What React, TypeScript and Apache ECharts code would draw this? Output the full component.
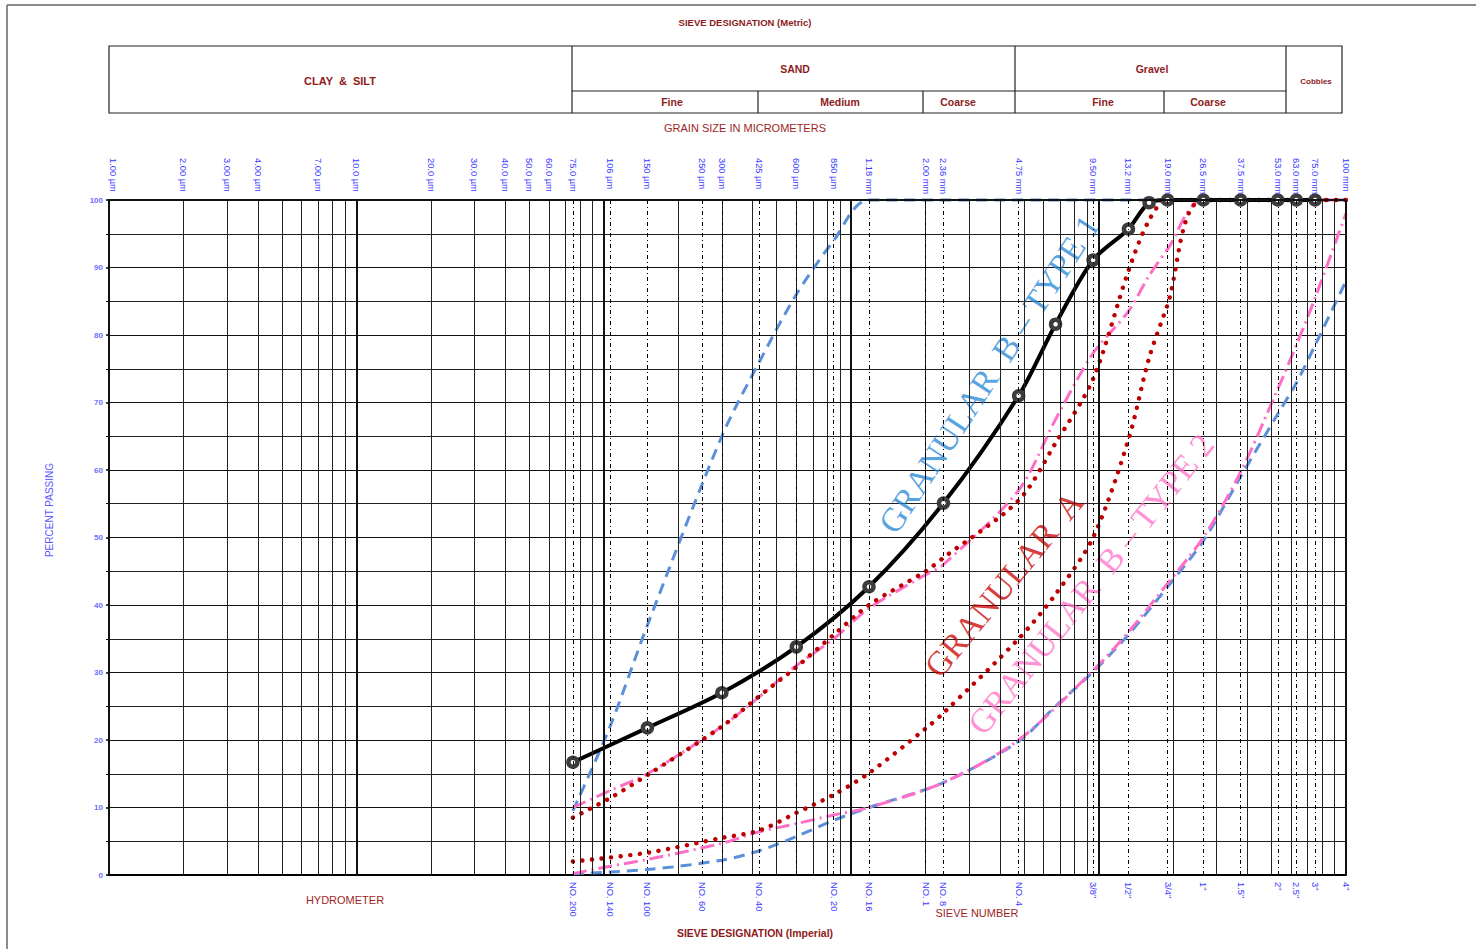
import React, { useEffect, useRef } from 'react';
import * as echarts from 'echarts';

// ---------- axis definitions (grain size in micrometres, percent passing) ----------
const sieveSizesUm = [75, 106, 150, 250, 300, 425, 600, 850, 1180, 2000, 2360, 4750, 9500, 13200, 19000, 26500, 37500, 53000, 63000, 75000];
const metricLabelSizesUm = [1, 2, 3, 4, 7, 10, 20, 30, 40, 50, 60, 75, 106, 150, 250, 300, 425, 600, 850, 1180, 2000, 2360, 4750, 9500, 13200, 19000, 26500, 37500, 53000, 63000, 75000, 100000];
const metricLabels = ['1.00 µm', '2.00 µm', '3.00 µm', '4.00 µm', '7.00 µm', '10.0 µm', '20.0 µm', '30.0 µm', '40.0 µm', '50.0 µm', '60.0 µm', '75.0 µm', '106 µm', '150 µm', '250 µm', '300 µm', '425 µm', '600 µm', '850 µm', '1.18 mm', '2.00 mm', '2.36 mm', '4.75 mm', '9.50 mm', '13.2 mm', '19.0 mm', '26.5 mm', '37.5 mm', '53.0 mm', '63.0 mm', '75.0 mm', '100 mm'];
const imperialLabelSizesUm = [75, 106, 150, 250, 425, 850, 1180, 2000, 2360, 4750, 9500, 13200, 19000, 26500, 37500, 53000, 63000, 75000, 100000];
const imperialLabels = ['NO. 200', 'NO. 140', 'NO. 100', 'NO. 60', 'NO. 40', 'NO. 20', 'NO. 16', 'NO. 1', 'NO. 8', 'NO. 4', '3/8"', '1/2"', '3/4"', '1"', '1.5"', '2"', '2.5"', '3"', '4"'];

// ---------- gradation curves ----------
const typeB1Sizes = [75, 150, 300, 600, 1180, 2360, 4750, 6700, 9500, 13200, 16000, 19000, 26500, 37500, 53000, 63000, 75000];
const typeB1Passing = [16.7, 21.8, 27.0, 33.8, 42.7, 55.1, 71.0, 81.6, 91.1, 95.7, 99.6, 100, 100, 100, 100, 100, 100];

const typeB1FineSizes = [75, 106, 150, 300, 425, 600, 850, 1180, 100000];
const typeB1FinePassing = [9.5, 22, 37, 65, 76, 86, 94, 100, 100];

const typeB1CoarseSizes = [75, 150, 300, 425, 600, 850, 1180, 2360, 4750, 6700, 9500, 13200, 19000, 26500, 37500, 53000, 63000, 75000, 100000];
const typeB1CoarsePassing = [0.2, 0.8, 2.2, 3.6, 5.7, 8.1, 10, 13.7, 19.8, 25, 30.1, 35.6, 42.7, 49.5, 59, 68.3, 72.9, 78.5, 88];

const typeB2FineSizes = [75, 106, 150, 300, 425, 600, 850, 1180, 2000, 2360, 4750, 6700, 9500, 13200, 16000, 19000, 26500, 100000];
const typeB2FinePassing = [10, 12.5, 15, 22, 26.4, 31, 35, 39.5, 44.5, 46, 57, 67.5, 77.3, 83.5, 88.8, 92.7, 100, 100];

const typeB2CoarseSizes = [75, 106, 150, 300, 425, 600, 850, 1180, 2360, 4750, 9500, 13200, 19000, 26500, 37500, 53000, 63000, 75000, 100000];
const typeB2CoarsePassing = [0.2, 1.3, 2.3, 4.7, 6.4, 7.6, 8.9, 10, 13.7, 20, 30.3, 36, 43.2, 50, 59.7, 72, 78.5, 85.5, 98];

const granAFineSizes = [75, 106, 150, 300, 425, 600, 850, 1180, 2000, 2360, 4750, 6700, 9500, 13200, 16000, 19000, 100000];
const granAFinePassing = [8.5, 11.4, 14.8, 22, 26.5, 30.8, 35.6, 40, 45, 47, 55.5, 64, 73.5, 89.5, 97, 100, 100];

const granACoarseSizes = [75, 150, 300, 425, 600, 850, 1180, 2000, 2360, 4750, 6700, 9500, 13200, 16000, 19000, 26500, 100000];
const granACoarsePassing = [2, 3.3, 5.5, 6.6, 9.2, 11.9, 15.1, 21.7, 24, 35, 41.6, 50, 64.5, 76.6, 84.5, 100, 100];

// ---------- annotations (data position of text centre) ----------
const annotationTexts = ['GRANULAR  B – TYPE 1', 'GRANULAR  A', 'GRANULAR  B – TYPE 2'];
const annotationSizesUm = [3606, 4146, 9312];
const annotationPassing = [74.2, 43.1, 43.1];
const annotationAngles = [56.6, 50.6, 51.5];
const annotationColors = ['#1f86d6', '#cc0000', '#ff6fc8'];

const SANS = "'Liberation Sans Narrow','Liberation Sans',Arial,sans-serif";
const SERIF = "'Liberation Serif','DejaVu Serif',serif";
const DARKRED = '#8e1b1b';
const LABELBLUE = '#3b3bff';

const BLUE = '#5a8fd9';
const PINK = '#ff6ec7';
const RED = '#c00000';

function zip(a: number[], b: number[]) {
  return a.map((v, i) => [v, b[i]]);
}

function buildGridLines() {
  const items: any[] = [];
  for (let k = 0; k < 5; k++) {
    for (let m = 1; m <= 9; m++) {
      const v = m * Math.pow(10, k);
      items.push({ xAxis: v, lineStyle: { color: m === 1 ? '#111' : '#222', width: m === 1 ? 2 : 1, type: 'solid' } });
    }
  }
  items.push({ xAxis: 100000, lineStyle: { color: '#111', width: 2, type: 'solid' } });
  sieveSizesUm.forEach((v) => {
    items.push({ xAxis: v, lineStyle: { color: '#000', width: 1, type: [4, 3, 1, 3] } });
  });
  items.push({ yAxis: 100, lineStyle: { color: '#111', width: 2, type: 'solid' } });
  return items;
}

export default function App() {
  const ref = useRef<HTMLDivElement>(null);
  useEffect(() => {
    const chart = echarts.init(ref.current!, null, { renderer: 'svg' });
    const lineBase = { type: 'line', showSymbol: false, smooth: 0.3, clip: false, silent: true, z: 3 };
    chart.setOption({
      animation: false,
      backgroundColor: '#fff',
      grid: { left: 109, top: 200, width: 1237, height: 675, outerBoundsMode: 'none' },
      xAxis: {
        type: 'log', logBase: 10, min: 1, max: 100000,
        axisLine: { show: true, onZero: false, lineStyle: { color: '#000', width: 2 } },
        axisTick: { show: false }, axisLabel: { show: false }, splitLine: { show: false }, minorTick: { show: false },
      },
      yAxis: {
        type: 'value', min: 0, max: 100, interval: 10,
        axisLine: { show: true, lineStyle: { color: '#000', width: 2 } },
        axisTick: { show: true, length: 3, lineStyle: { color: '#000', width: 1.5 } },
        minorTick: { show: true, splitNumber: 2, length: 3, lineStyle: { color: '#000', width: 1 } },
        axisLabel: { color: '#6f6fff', fontSize: 8, fontWeight: 'bold', fontFamily: SANS, margin: 6 },
        splitLine: { show: true, lineStyle: { color: '#111', width: 1 } },
        minorSplitLine: { show: true, lineStyle: { color: '#222', width: 1 } },
      },
      series: [
        {
          type: 'line', data: [], silent: true, z: 1,
          markLine: { silent: true, symbol: ['none', 'none'], label: { show: false }, animation: false, data: buildGridLines() },
        },
        { ...lineBase, name: 'B1 fine', data: zip(typeB1FineSizes, typeB1FinePassing), lineStyle: { color: BLUE, width: 3, type: [11, 7] } },
        { ...lineBase, name: 'B1 coarse', data: zip(typeB1CoarseSizes, typeB1CoarsePassing), lineStyle: { color: BLUE, width: 3, type: [11, 7] } },
        { ...lineBase, name: 'B2 fine', data: zip(typeB2FineSizes, typeB2FinePassing), lineStyle: { color: PINK, width: 3, type: [14, 5, 2, 5] } },
        { ...lineBase, name: 'B2 coarse', data: zip(typeB2CoarseSizes, typeB2CoarsePassing), lineStyle: { color: PINK, width: 3, type: [14, 5, 2, 5] } },
        { ...lineBase, name: 'A fine', data: zip(granAFineSizes, granAFinePassing), lineStyle: { color: RED, width: 4.4, type: [0.1, 9.5], cap: 'round' } },
        { ...lineBase, name: 'A coarse', data: zip(granACoarseSizes, granACoarsePassing), lineStyle: { color: RED, width: 4.4, type: [0.1, 9.5], cap: 'round' } },
        {
          type: 'line', name: 'B1', data: zip(typeB1Sizes, typeB1Passing), smooth: 0.3, clip: false, silent: true, z: 4,
          showSymbol: true, symbol: 'circle', symbolSize: 9,
          itemStyle: { color: '#fff', borderColor: '#3c3c3c', borderWidth: 4.5 },
          lineStyle: { color: '#000', width: 4 },
        },
      ],
    });

    const px = (um: number, p: number) => chart.convertToPixel({ gridIndex: 0 }, [um, p]) as number[];
    const g: any[] = [];
    const text = (x: number, y: number, t: string, o: any = {}) => ({
      type: 'text', x, y, rotation: o.rotation || 0, silent: true, z: o.z || 20,
      style: {
        text: t, fill: o.color || DARKRED, fontSize: o.size || 10, fontWeight: o.weight || 'normal',
        fontFamily: o.family || SANS, align: o.align || 'center', verticalAlign: o.valign || 'middle',
      },
    });
    const line = (x1: number, y1: number, x2: number, y2: number, color = '#222', w = 1.2) => ({
      type: 'line', silent: true, z: 5, shape: { x1, y1, x2, y2 }, style: { stroke: color, lineWidth: w },
    });

    // outer frame
    g.push(line(7, 5, 1476, 5, '#666', 1.5));
    g.push(line(7, 5, 7, 949, '#666', 1.5));

    // header table
    g.push({ type: 'rect', silent: true, z: 5, shape: { x: 109, y: 46, width: 1233, height: 67 }, style: { fill: 'none', stroke: '#222', lineWidth: 1.2 } });
    g.push(line(572, 46, 572, 113));
    g.push(line(1015, 46, 1015, 113));
    g.push(line(1286, 46, 1286, 113));
    g.push(line(572, 91, 1286, 91));
    g.push(line(758, 91, 758, 113));
    g.push(line(923, 91, 923, 113));
    g.push(line(1164, 91, 1164, 113));

    g.push(text(745, 22, 'SIEVE DESIGNATION (Metric)', { weight: 'bold', size: 9.5 }));
    g.push(text(340, 81, 'CLAY  &  SILT', { weight: 'bold', size: 11 }));
    g.push(text(795, 69, 'SAND', { weight: 'bold', size: 10.5 }));
    g.push(text(1152, 69, 'Gravel', { weight: 'bold', size: 10.5 }));
    g.push(text(1316, 81, 'Cobbles', { weight: 'bold', size: 8 }));
    g.push(text(672, 102, 'Fine', { weight: 'bold', size: 10.5 }));
    g.push(text(840, 102, 'Medium', { weight: 'bold', size: 10.5 }));
    g.push(text(958, 102, 'Coarse', { weight: 'bold', size: 10.5 }));
    g.push(text(1103, 102, 'Fine', { weight: 'bold', size: 10.5 }));
    g.push(text(1208, 102, 'Coarse', { weight: 'bold', size: 10.5 }));
    g.push(text(745, 128, 'GRAIN SIZE IN MICROMETERS', { size: 11, color: '#a01f1f' }));

    g.push(text(345, 900, 'HYDROMETER', { size: 11, color: '#a01f1f' }));
    g.push(text(977, 913, 'SIEVE NUMBER', { size: 11, color: '#a01f1f' }));
    g.push(text(755, 933, 'SIEVE DESIGNATION (Imperial)', { weight: 'bold', size: 10.5 }));

    g.push(text(49, 510, 'PERCENT PASSING', { size: 10, color: '#5a5aff', rotation: Math.PI / 2 }));

    // metric tick labels (top)
    metricLabelSizesUm.forEach((um, i) => {
      const p = px(um, 100);
      g.push(text(Math.max(p[0], 113), p[1] - 42, metricLabels[i], { size: 9.3, color: LABELBLUE, rotation: -Math.PI / 2, align: 'left' }));
    });
    // imperial tick labels (bottom)
    imperialLabelSizesUm.forEach((um, i) => {
      const p = px(um, 0);
      g.push(text(p[0], p[1] + 7, imperialLabels[i], { size: 9.3, color: LABELBLUE, rotation: -Math.PI / 2, align: 'left' }));
    });

    // curve annotations
    annotationTexts.forEach((t, i) => {
      const p = px(annotationSizesUm[i], annotationPassing[i]);
      g.push({
        type: 'text', x: p[0], y: p[1], rotation: (annotationAngles[i] * Math.PI) / 180, silent: true, z: 2,
        style: {
          text: t, fontSize: 34, fontFamily: SERIF, fontWeight: 'normal', align: 'center', verticalAlign: 'middle',
          fill: annotationColors[i], opacity: 0.75,
        },
      });
    });

    chart.setOption({ graphic: g });
    return () => chart.dispose();
  }, []);
  return <div ref={ref} style={{ position: 'fixed', left: 0, top: 0, width: 1476, height: 949, background: '#fff' }} />;
}
